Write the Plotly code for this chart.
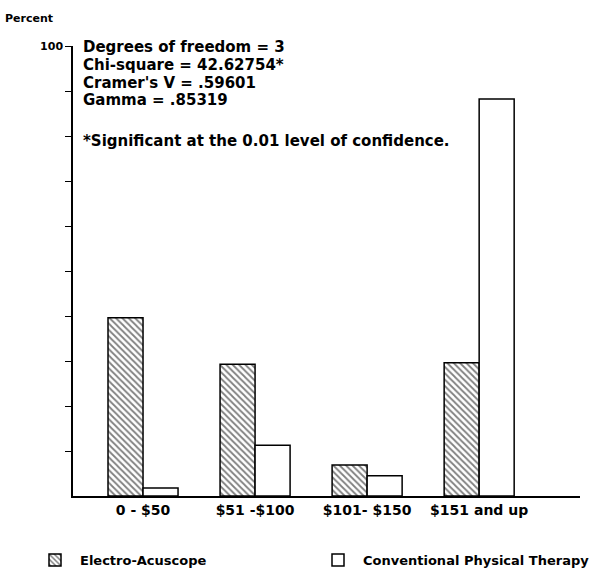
import plotly.graph_objects as go

categories = ["0 - $50", "$51 -$100", "$101- $150", "$151 and up"]
electro = [39.6, 29.3, 6.9, 29.6]
conventional = [1.8, 11.3, 4.5, 88.2]
y_tickvals = [10, 20, 30, 40, 50, 60, 70, 80, 90, 100]
y_ticktext = ["", "", "", "", "", "", "", "", "", "100"]
stats_lines = [
    "Degrees of freedom = 3",
    "Chi-square = 42.62754*",
    "Cramer's V = .59601",
    "Gamma = .85319",
]
footnote = "*Significant at the 0.01 level of confidence."

FONT = "DejaVu Sans, Liberation Sans, Arial, sans-serif"
W, H = 599, 572
L, R, T, B = 73, 19, 46, 76
PW, PH = W - L - R, H - T - B


def px(xp):
    return (xp - L) / PW


def py(yp):
    return 1 - (yp - T) / PH


fig = go.Figure()
fig.add_trace(go.Bar(
    x=categories, y=electro, name="Electro-Acuscope", legend="legend",
    marker=dict(color="white", line=dict(color="black", width=1.5),
                pattern=dict(shape="\\", size=4.5, solidity=0.4, fgcolor="black", bgcolor="white")),
))
fig.add_trace(go.Bar(
    x=categories, y=conventional, name="Conventional Physical Therapy", legend="legend2",
    marker=dict(color="white", line=dict(color="black", width=1.5)),
))

stat_font = dict(size=15, family=FONT, color="black", weight="bold")
annotations = []
for txt, yy in zip(stats_lines, [47, 65, 83, 100]):
    annotations.append(dict(text=txt, xref="paper", yref="paper", x=px(81), y=py(yy),
                            xanchor="left", yanchor="middle", showarrow=False, font=stat_font))
annotations.append(dict(text=footnote, xref="paper", yref="paper", x=px(81), y=py(141),
                        xanchor="left", yanchor="middle", showarrow=False, font=stat_font))
annotations.append(dict(text="Percent", xref="paper", yref="paper", x=px(3), y=py(18),
                        xanchor="left", yanchor="middle", showarrow=False,
                        font=dict(size=11, family=FONT, color="black", weight="bold")))

leg_font = dict(size=13, family=FONT, color="black", weight="bold")
fig.update_layout(
    width=W, height=H,
    margin=dict(l=L, r=R, t=T, b=B, autoexpand=False),
    paper_bgcolor="white", plot_bgcolor="white",
    barmode="group", bargap=0.375, bargroupgap=0,
    font=dict(family=FONT, size=12, color="black", weight="bold"),
    annotations=annotations,
    showlegend=True,
    legend=dict(orientation="h", xref="container", yref="container",
                x=30 / W, y=1 - 560 / H, xanchor="left", yanchor="middle",
                itemwidth=40, font=leg_font, bgcolor="rgba(0,0,0,0)"),
    legend2=dict(orientation="h", xref="container", yref="container",
                 x=313 / W, y=1 - 560 / H, xanchor="left", yanchor="middle",
                 itemwidth=40, font=leg_font, bgcolor="rgba(0,0,0,0)"),
    xaxis=dict(range=[-0.625, 3.9], showline=True, linecolor="black", linewidth=1.5,
               ticks="", showgrid=False, zeroline=False,
               tickfont=dict(size=14, family=FONT, color="black", weight="bold")),
    yaxis=dict(range=[0, 100], showline=True, linecolor="black", linewidth=1.5,
               ticks="outside", ticklen=6, tickwidth=1.2, tickcolor="black",
               tickvals=y_tickvals, ticktext=y_ticktext, showgrid=False, zeroline=False,
               tickfont=dict(size=11, family=FONT, color="black", weight="bold")),
)

fig.write_html("out.html", config={"displayModeBar": False},
               post_script="document.body.style.margin='0';")
